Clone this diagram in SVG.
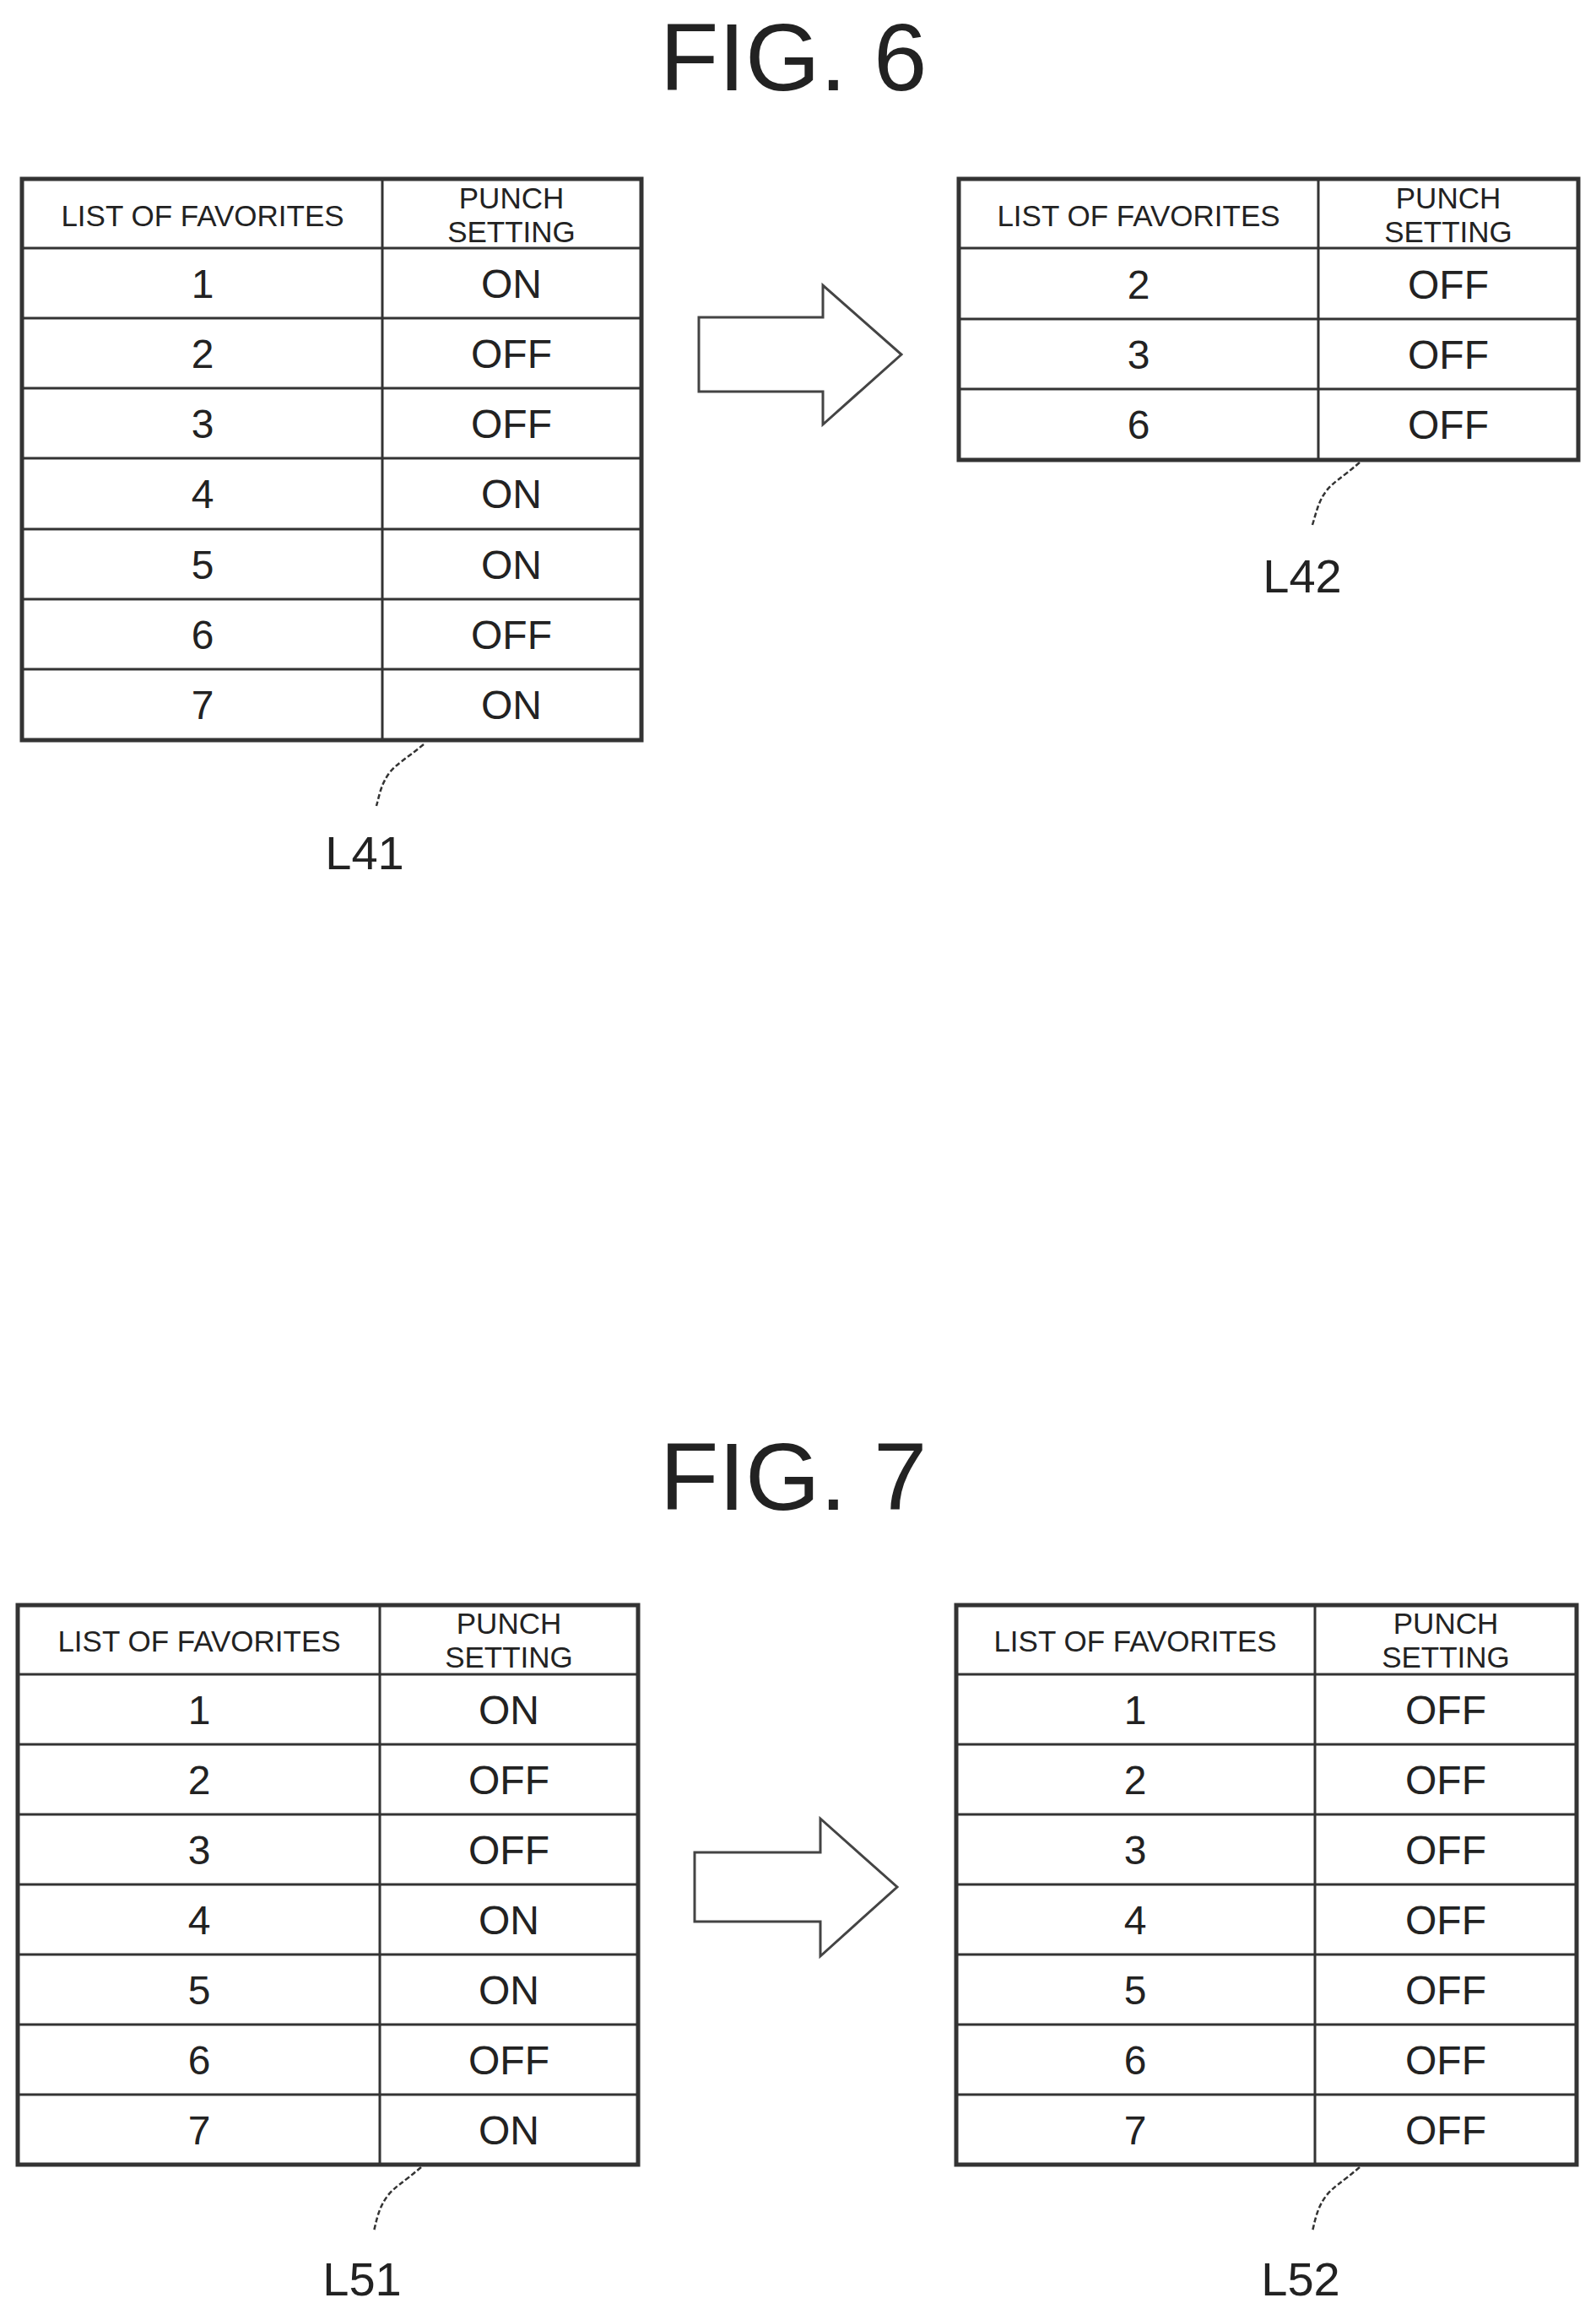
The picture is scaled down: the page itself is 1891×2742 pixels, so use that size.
<svg xmlns="http://www.w3.org/2000/svg" width="1891" height="2742" viewBox="0 0 1891 2742">
<style>
.t{font-family:"Liberation Sans",Arial,sans-serif;fill:#222;text-anchor:middle}
.title{font-size:114px}
.hd{font-size:35px}
.c{font-size:48px}
.lb{font-size:56px}
.grid{fill:none;stroke:#333;stroke-width:3}
.outer{fill:#fff;stroke:#333;stroke-width:5}
.arrow{fill:#fff;stroke:#444;stroke-width:3}
.lead{fill:none;stroke:#333;stroke-width:2.5;stroke-dasharray:6 3}
</style>
<rect width="1891" height="2742" fill="#fff"/>
<text class="t title" x="940" y="107">FIG. 6</text>
<text class="t title" x="940" y="1789">FIG. 7</text>

<g id="L41">
<rect class="outer" x="26" y="212" width="734" height="665"/>
<path class="grid" d="M453 212V877M26 294H760M26 377H760M26 460H760M26 543H760M26 627H760M26 710H760M26 793H760"/>
<text class="t hd" x="240" y="268">LIST OF FAVORITES</text>
<text class="t hd" x="606" y="247">PUNCH</text><text class="t hd" x="606" y="287">SETTING</text>
<text class="t c" x="240" y="353">1</text><text class="t c" x="606" y="353">ON</text>
<text class="t c" x="240" y="436">2</text><text class="t c" x="606" y="436">OFF</text>
<text class="t c" x="240" y="519">3</text><text class="t c" x="606" y="519">OFF</text>
<text class="t c" x="240" y="602">4</text><text class="t c" x="606" y="602">ON</text>
<text class="t c" x="240" y="686">5</text><text class="t c" x="606" y="686">ON</text>
<text class="t c" x="240" y="769">6</text><text class="t c" x="606" y="769">OFF</text>
<text class="t c" x="240" y="852">7</text><text class="t c" x="606" y="852">ON</text>
<text class="t lb" x="432" y="1030">L41</text>
</g>

<g id="L42">
<rect class="outer" x="1136" y="212" width="734" height="333"/>
<path class="grid" d="M1562 212V545M1136 294H1870M1136 378H1870M1136 461H1870"/>
<text class="t hd" x="1349" y="268">LIST OF FAVORITES</text>
<text class="t hd" x="1716" y="247">PUNCH</text><text class="t hd" x="1716" y="287">SETTING</text>
<text class="t c" x="1349" y="354">2</text><text class="t c" x="1716" y="354">OFF</text>
<text class="t c" x="1349" y="437">3</text><text class="t c" x="1716" y="437">OFF</text>
<text class="t c" x="1349" y="520">6</text><text class="t c" x="1716" y="520">OFF</text>
<text class="t lb" x="1543" y="702">L42</text>
</g>

<g id="L51">
<rect class="outer" x="21" y="1902" width="735" height="663"/>
<path class="grid" d="M450 1902V2565M21 1984H756M21 2067H756M21 2150H756M21 2233H756M21 2316H756M21 2399H756M21 2482H756"/>
<text class="t hd" x="236" y="1957">LIST OF FAVORITES</text>
<text class="t hd" x="603" y="1936">PUNCH</text><text class="t hd" x="603" y="1976">SETTING</text>
<text class="t c" x="236" y="2043">1</text><text class="t c" x="603" y="2043">ON</text>
<text class="t c" x="236" y="2126">2</text><text class="t c" x="603" y="2126">OFF</text>
<text class="t c" x="236" y="2209">3</text><text class="t c" x="603" y="2209">OFF</text>
<text class="t c" x="236" y="2292">4</text><text class="t c" x="603" y="2292">ON</text>
<text class="t c" x="236" y="2375">5</text><text class="t c" x="603" y="2375">ON</text>
<text class="t c" x="236" y="2458">6</text><text class="t c" x="603" y="2458">OFF</text>
<text class="t c" x="236" y="2541">7</text><text class="t c" x="603" y="2541">ON</text>
<text class="t lb" x="429" y="2720">L51</text>
</g>

<g id="L52">
<rect class="outer" x="1133" y="1902" width="735" height="663"/>
<path class="grid" d="M1558 1902V2565M1133 1984H1868M1133 2067H1868M1133 2150H1868M1133 2233H1868M1133 2316H1868M1133 2399H1868M1133 2482H1868"/>
<text class="t hd" x="1345" y="1957">LIST OF FAVORITES</text>
<text class="t hd" x="1713" y="1936">PUNCH</text><text class="t hd" x="1713" y="1976">SETTING</text>
<text class="t c" x="1345" y="2043">1</text><text class="t c" x="1713" y="2043">OFF</text>
<text class="t c" x="1345" y="2126">2</text><text class="t c" x="1713" y="2126">OFF</text>
<text class="t c" x="1345" y="2209">3</text><text class="t c" x="1713" y="2209">OFF</text>
<text class="t c" x="1345" y="2292">4</text><text class="t c" x="1713" y="2292">OFF</text>
<text class="t c" x="1345" y="2375">5</text><text class="t c" x="1713" y="2375">OFF</text>
<text class="t c" x="1345" y="2458">6</text><text class="t c" x="1713" y="2458">OFF</text>
<text class="t c" x="1345" y="2541">7</text><text class="t c" x="1713" y="2541">OFF</text>
<text class="t lb" x="1541" y="2720">L52</text>
</g>

<g id="connectors">
<path class="arrow" d="M828 376H975V338L1068 420L975 503V464H828Z"/>
<path class="arrow" d="M823 2195H972V2155L1063 2236L972 2318V2277H823Z"/>
<path class="lead" d="M502 882C480 900 470 905 462 915C452 928 450 940 446 955"/>
<path class="lead" d="M1611 548C1590 566 1580 571 1572 581C1562 594 1560 606 1555 622"/>
<path class="lead" d="M499 2568C478 2586 468 2591 460 2601C450 2614 447 2626 443 2644"/>
<path class="lead" d="M1611 2568C1590 2586 1580 2591 1572 2601C1562 2614 1559 2626 1555 2644"/>
</g>
</svg>
